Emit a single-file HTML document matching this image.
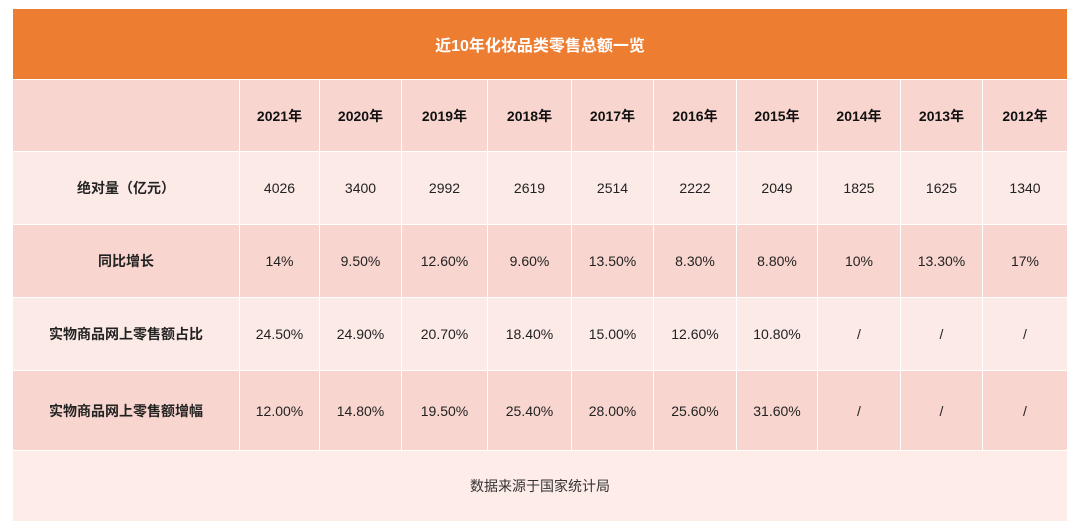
<!DOCTYPE html><html><head><meta charset="utf-8"><style>
body{margin:0;width:1080px;height:532px;background:#fff;font-family:"Liberation Sans","Noto Sans CJK SC",sans-serif;position:relative;overflow:hidden}
.t{position:absolute;left:13px;top:9px;width:1054px}
.h{height:70px;background:#ED7D31;color:#fff;font-weight:bold;font-size:16px;display:flex;align-items:center;justify-content:center;border-bottom:1px solid #fff}
.r{display:flex;border-bottom:1px solid #fff}
.r div{display:flex;align-items:center;justify-content:center;font-size:14px;color:#222;border-right:1px solid #fff;box-sizing:border-box}
.r div:last-child{border-right:none}
.d{background:#F8D5CE}.l{background:#FCEAE6}
.b div{font-weight:bold;color:#111}
.r div:first-child{font-weight:bold}
.f{height:70px;background:#FDECE8;display:flex;align-items:center;justify-content:center;font-size:14px;color:#333}
</style></head><body><div class="t">
<div class="h">近10年化妆品类零售总额一览</div>
<div class="r d b" style="height:71px"><div style="width:227px"></div><div style="width:80px">2021年</div><div style="width:82px">2020年</div><div style="width:86px">2019年</div><div style="width:84px">2018年</div><div style="width:82px">2017年</div><div style="width:83px">2016年</div><div style="width:81px">2015年</div><div style="width:83px">2014年</div><div style="width:82px">2013年</div><div style="width:84px">2012年</div></div>
<div class="r l" style="height:72px"><div style="width:227px">绝对量（亿元）</div><div style="width:80px">4026</div><div style="width:82px">3400</div><div style="width:86px">2992</div><div style="width:84px">2619</div><div style="width:82px">2514</div><div style="width:83px">2222</div><div style="width:81px">2049</div><div style="width:83px">1825</div><div style="width:82px">1625</div><div style="width:84px">1340</div></div>
<div class="r d" style="height:72px"><div style="width:227px">同比增长</div><div style="width:80px">14%</div><div style="width:82px">9.50%</div><div style="width:86px">12.60%</div><div style="width:84px">9.60%</div><div style="width:82px">13.50%</div><div style="width:83px">8.30%</div><div style="width:81px">8.80%</div><div style="width:83px">10%</div><div style="width:82px">13.30%</div><div style="width:84px">17%</div></div>
<div class="r l" style="height:72px"><div style="width:227px">实物商品网上零售额占比</div><div style="width:80px">24.50%</div><div style="width:82px">24.90%</div><div style="width:86px">20.70%</div><div style="width:84px">18.40%</div><div style="width:82px">15.00%</div><div style="width:83px">12.60%</div><div style="width:81px">10.80%</div><div style="width:83px">/</div><div style="width:82px">/</div><div style="width:84px">/</div></div>
<div class="r d" style="height:79px"><div style="width:227px">实物商品网上零售额增幅</div><div style="width:80px">12.00%</div><div style="width:82px">14.80%</div><div style="width:86px">19.50%</div><div style="width:84px">25.40%</div><div style="width:82px">28.00%</div><div style="width:83px">25.60%</div><div style="width:81px">31.60%</div><div style="width:83px">/</div><div style="width:82px">/</div><div style="width:84px">/</div></div>
<div class="f">数据来源于国家统计局</div>
</div></body></html>
